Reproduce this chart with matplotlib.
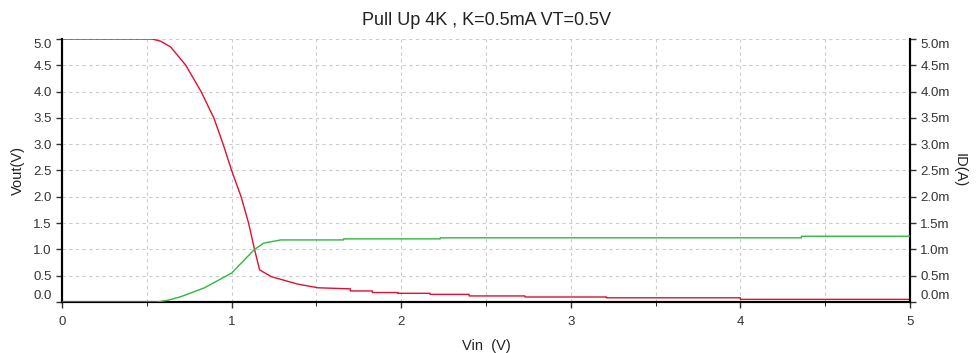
import matplotlib.pyplot as plt
import numpy as np

plt.rcParams['font.family'] = ['Liberation Sans', 'DejaVu Sans']

# sweep of the input voltage (V) and output voltage (V)
vin = [0.0, 0.53, 0.58, 0.64, 0.73, 0.82, 0.895, 0.95, 1.0, 1.056,
       1.10, 1.135, 1.165, 1.235, 1.39, 1.51, 1.70, 1.70, 1.83, 1.83,
       1.98, 1.98, 2.17, 2.17, 2.40, 2.40, 2.73, 2.73, 3.21, 3.21,
       4.0, 4.0, 5.0]
vout = [5.0, 5.0, 4.96, 4.85, 4.5, 4.0, 3.5, 3.0, 2.5, 2.0,
        1.5, 1.0, 0.61, 0.48, 0.34, 0.27, 0.25, 0.21, 0.21, 0.18,
        0.18, 0.165, 0.165, 0.145, 0.145, 0.115, 0.115, 0.095, 0.095, 0.08,
        0.08, 0.05, 0.05]

# drain current (mA)
vin_id = [0.0, 0.56, 0.62, 0.70, 0.84, 1.0, 1.135, 1.19, 1.29, 1.66,
          1.66, 2.23, 2.23, 4.36, 4.36, 5.0]
id_ma = [0.0, 0.0, 0.03, 0.10, 0.27, 0.55, 1.0, 1.12, 1.18, 1.18,
         1.20, 1.20, 1.22, 1.22, 1.25, 1.25]

y_ticks = np.arange(0, 5.01, 0.5)
x_ticks = [0, 1, 2, 3, 4, 5]

fig = plt.figure(figsize=(9.77, 3.53), dpi=100)
ax = fig.add_axes([0.0635, 0.1445, 0.8679, 0.745])
ax2 = ax.twinx()

ax.plot(vin, vout, color='#e01030', linewidth=1.0, zorder=3)
ax2.plot(vin_id, id_ma, color='#2db83d', linewidth=1.0, zorder=3)

ax.set_xlim(0, 5)
ax.set_ylim(0, 5)
ax2.set_ylim(0, 5)

ax.set_xticks(x_ticks)
ax.set_xticks(np.arange(0, 5.01, 0.5), minor=True)
ax.set_yticks(y_ticks)
ax2.set_yticks(y_ticks)
ax.set_yticklabels([f'{v:.1f}' for v in y_ticks])
ax2.set_yticklabels([f'{v:.1f}m' for v in y_ticks])

# keep the end labels inside the plot height
for axis in (ax, ax2):
    labels = axis.get_yticklabels()
    labels[0].set_verticalalignment('bottom')
    labels[-1].set_verticalalignment('top')

ax.grid(True, which='both', axis='x', linestyle=(0, (3, 3)), color='#cccccc', linewidth=0.8)
ax.grid(True, axis='y', linestyle=(0, (3, 3)), color='#cccccc', linewidth=0.8)

for a in (ax, ax2):
    a.spines['top'].set_visible(False)
    for s in ('left', 'right', 'bottom'):
        a.spines[s].set_linewidth(1.5)
    a.tick_params(labelsize=9.5, colors='#333333', length=4, width=1)
ax.tick_params(axis='x', which='minor', length=3)
ax.tick_params(axis='x', pad=6)

ax.set_xlabel('Vin  (V)', fontsize=10.5, color='#222222', labelpad=8)
ax.set_ylabel('Vout(V)', fontsize=10.5, color='#222222', labelpad=6)
ax2.set_ylabel('ID(A)', fontsize=10.5, color='#222222', rotation=270, labelpad=12)

ax.set_title('Pull Up 4K , K=0.5mA VT=0.5V', fontsize=13, color='#222222', pad=10)

fig.savefig('out.png', dpi=100)
